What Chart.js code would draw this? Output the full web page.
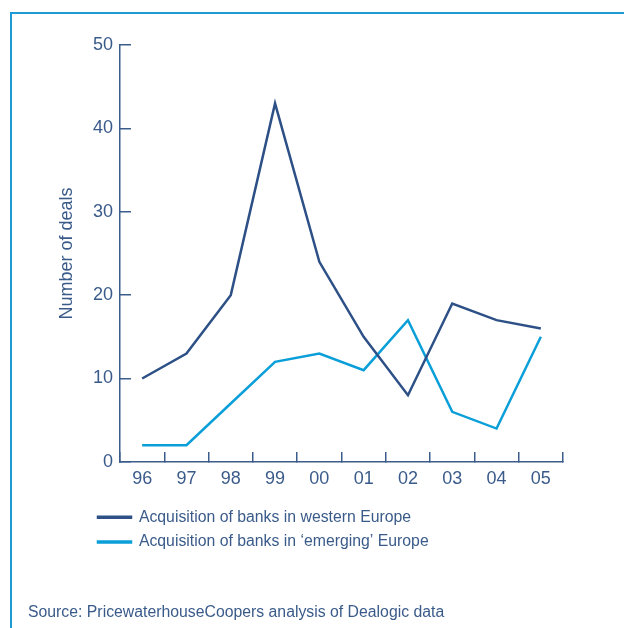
<!DOCTYPE html>
<html>
<head>
<meta charset="utf-8">
<script src="https://cdn.jsdelivr.net/npm/chart.js@4/dist/chart.umd.min.js"></script>
<style>
  html, body { margin: 0; padding: 0; background: #fff; }
  #wrap { position: relative; width: 624px; height: 628px; overflow: hidden; }
  #frame { position: absolute; left: 10px; top: 12px; right: -2px; bottom: -2px;
           border-left: 2px solid #1e9bd7; border-top: 2px solid #1e9bd7; }
  #chart { position: absolute; left: 0; top: 0; }
  #source { position: absolute; left: 28px; top: 603px; font: 15.8px "Liberation Sans", Arial, sans-serif;
            color: #3a5b8a; white-space: nowrap; }
</style>
</head>
<body>
<div id="wrap">
  <div id="frame"></div>
  <canvas id="chart" width="624" height="628"></canvas>
  <div id="source">Source: PricewaterhouseCoopers analysis of Dealogic data</div>
</div>
<script>
// 数据
var years = ['96', '97', '98', '99', '00', '01', '02', '03', '04', '05'];
var westernDeals = [10, 13, 20, 43, 24, 15, 8, 19, 17, 16];
var emergingDeals = [2, 2, 7, 12, 13, 11, 17, 6, 4, 15];
var yTicks = [0, 10, 20, 30, 40, 50];

var textColor = '#3a5b8a';
var axisColor = '#3b5d8c';
var family = '"Liberation Sans", Arial, sans-serif';
var numFont = { family: family, size: 18 };
var legendFont = { family: family, size: 15.8 };

var ctx = document.getElementById('chart').getContext('2d');
var chart = new Chart(ctx, {
    type: 'line',
    data: {
        labels: years,
        datasets: [{
            label: 'Acquisition of banks in western Europe',
            data: westernDeals,
            borderColor: '#2d5086',
            backgroundColor: '#2d5086',
            borderWidth: 2.5,
            pointRadius: 0,
            tension: 0
        }, {
            label: 'Acquisition of banks in \u2018emerging\u2019 Europe',
            data: emergingDeals,
            borderColor: '#0a9fd8',
            backgroundColor: '#0a9fd8',
            borderWidth: 2.5,
            pointRadius: 0,
            tension: 0
        }]
    },
    options: {
        responsive: false,
        animation: false,
        layout: { padding: { left: 89, right: 61, top: 45, bottom: 68 } },
        plugins: {
            tooltip: { enabled: false },
            legend: {
                position: 'bottom',
                align: 'start',
                labels: {
                    boxWidth: 33,
                    boxHeight: 1,
                    padding: 9,
                    color: textColor,
                    font: legendFont
                }
            }
        },
        scales: {
            x: {
                offset: true,
                grid: { offset: true, drawOnChartArea: false, tickLength: -10, color: axisColor, lineWidth: 1.5 },
                border: { color: axisColor, width: 1.5 },
                ticks: { color: textColor, font: numFont, padding: 16, autoSkip: false, maxRotation: 0 },
                afterFit: function(scale) { scale.height = 38.5; }
            },
            y: {
                min: 0,
                max: 50,
                afterBuildTicks: function(scale) {
                    scale.ticks = yTicks.map(function(v) { return { value: v }; });
                },
                grid: { drawOnChartArea: false, tickLength: -11, color: axisColor, lineWidth: 1.5 },
                border: { color: axisColor, width: 1.5 },
                ticks: { color: textColor, font: numFont, padding: 18 },
                title: {
                    display: true,
                    text: 'Number of deals',
                    color: textColor,
                    font: numFont,
                    padding: { top: -33, bottom: 0 }
                },
                afterFit: function(scale) { scale.width = 31; }
            }
        }
    }
});
</script>
</body>
</html>
